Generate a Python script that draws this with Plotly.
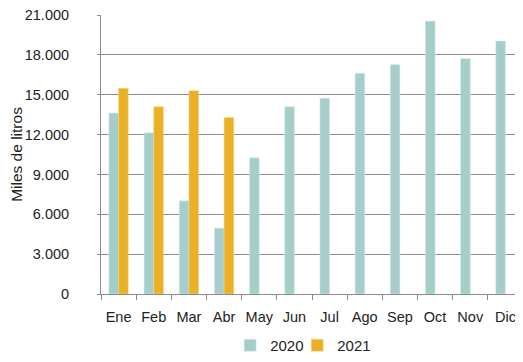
import plotly.graph_objects as go

# Datos mensuales (miles de litros)
meses = ["Ene", "Feb", "Mar", "Abr", "May", "Jun", "Jul", "Ago", "Sep", "Oct", "Nov", "Dic"]
valores_2020 = [13630, 12140, 7010, 4960, 10250, 14090, 14740, 16620, 17270, 20540, 17730, 19050]
valores_2021 = [15480, 14090, 15300, 13280]
meses_2021 = meses[:4]

color_2020 = "#A5CDCB"
color_2021 = "#EAB126"
gris = "#8C8C8C"

fig = go.Figure()
fig.add_trace(go.Bar(x=meses, y=valores_2020, name="2020", legend="legend",
                     marker=dict(color=color_2020, line=dict(color="#D8ECEA", width=0.5))))
fig.add_trace(go.Bar(x=meses_2021, y=valores_2021, name="2021", legend="legend2",
                     marker=dict(color=color_2021, line=dict(color="#F5D68A", width=0.5))))

leyenda = dict(orientation="h", xanchor="left", y=-0.185, yanchor="middle",
               font=dict(size=15), itemwidth=30, bgcolor="rgba(0,0,0,0)")

# la pagina tiene 8px de margen en body, se compensa aqui
fig.update_layout(
    width=515, height=354,
    margin=dict(l=93, r=0, t=7, b=64),
    plot_bgcolor="white", paper_bgcolor="white",
    font=dict(family="Liberation Sans, Arial, sans-serif", size=14.5, color="#222222"),
    separators=",.",
    barmode="group",
    bargap=0.45, bargroupgap=0,
    showlegend=True,
    legend=dict(leyenda, x=0.306),
    legend2=dict(leyenda, x=0.465),
)

fig.update_xaxes(
    categoryorder="array", categoryarray=meses,
    showline=True, linecolor=gris, linewidth=1,
    ticks="outside", tickson="boundaries", ticklen=5, tickcolor=gris,
    ticklabelstandoff=10,
    showgrid=False, automargin=False, tickangle=0,
)
fig.update_yaxes(
    range=[0, 21001], dtick=3000, tick0=0, tickformat=",d",
    showgrid=True, gridcolor=gris, gridwidth=1,
    showline=True, linecolor=gris, linewidth=1,
    ticks="outside", ticklen=3, tickcolor=gris,
    ticklabelstandoff=25, ticklabeloverflow="allow",
    zeroline=False, automargin=False,
    title=dict(text="Miles de litros", font=dict(size=15.5), standoff=3),
)

fig.write_html("out.html")
